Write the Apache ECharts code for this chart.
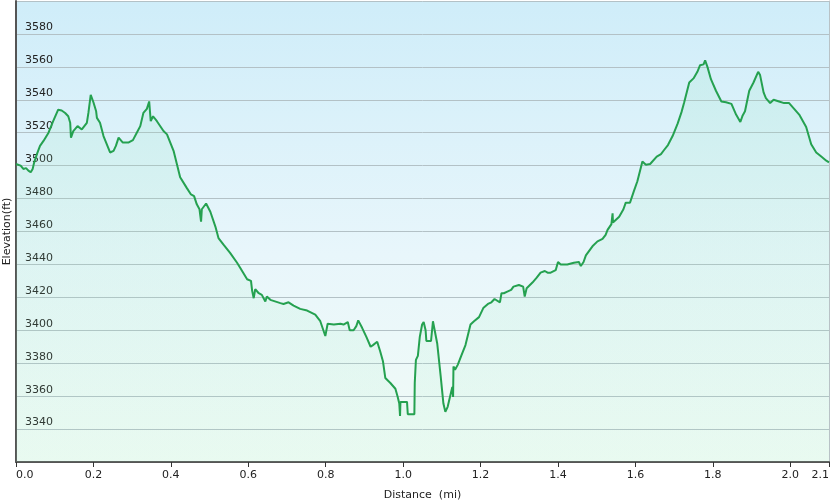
<!DOCTYPE html>
<html>
<head>
<meta charset="utf-8">
<script src="https://cdn.jsdelivr.net/npm/echarts@6/dist/echarts.min.js"></script>
<style>
html,body{margin:0;padding:0;background:#fff;}
#chart{width:831px;height:504px;}
</style>
</head>
<body>
<div id="chart"></div>
<script>
var distance = [0.000,0.012,0.019,0.026,0.032,0.038,0.043,0.047,0.054,0.062,0.071,0.084,0.096,0.109,0.118,0.127,0.135,0.140,0.142,0.148,0.159,0.170,0.183,0.187,0.193,0.200,0.207,0.209,0.217,0.226,0.243,0.252,0.258,0.265,0.276,0.290,0.302,0.312,0.321,0.329,0.338,0.344,0.348,0.354,0.364,0.381,0.390,0.407,0.424,0.441,0.452,0.460,0.467,0.474,0.478,0.480,0.491,0.502,0.515,0.523,0.536,0.553,0.571,0.579,0.597,0.607,0.610,0.614,0.618,0.627,0.635,0.644,0.648,0.657,0.683,0.691,0.704,0.717,0.734,0.752,0.773,0.786,0.799,0.805,0.821,0.838,0.846,0.857,0.862,0.872,0.879,0.884,0.894,0.905,0.916,0.922,0.933,0.941,0.948,0.954,0.959,0.967,0.980,0.986,0.990,0.992,0.993,1.010,1.012,1.029,1.030,1.033,1.038,1.043,1.049,1.053,1.058,1.060,1.072,1.077,1.081,1.088,1.097,1.104,1.109,1.115,1.122,1.127,1.129,1.130,1.134,1.141,1.146,1.150,1.161,1.174,1.183,1.196,1.207,1.219,1.228,1.236,1.250,1.254,1.260,1.269,1.279,1.285,1.299,1.310,1.314,1.319,1.334,1.345,1.355,1.366,1.373,1.381,1.394,1.400,1.407,1.424,1.441,1.454,1.459,1.466,1.472,1.477,1.489,1.502,1.515,1.523,1.528,1.538,1.541,1.542,1.558,1.569,1.575,1.586,1.596,1.605,1.618,1.627,1.638,1.655,1.666,1.674,1.684,1.696,1.709,1.719,1.726,1.739,1.750,1.760,1.767,1.776,1.780,1.786,1.795,1.808,1.822,1.834,1.848,1.860,1.871,1.877,1.883,1.894,1.905,1.917,1.922,1.931,1.937,1.948,1.957,1.971,1.984,1.997,2.010,2.023,2.041,2.054,2.067,2.080,2.093,2.100];
var elevation = [3501,3500,3498,3498.5,3497,3496,3498,3502,3507,3512,3515,3520,3527,3534,3533.5,3532,3530,3526,3517,3521,3524,3522,3526,3532,3543,3538.5,3533,3529,3526,3518,3508,3509,3512,3517,3514,3514,3515.5,3520,3524,3532,3534.5,3539,3527,3530,3527,3521,3519,3509,3493,3486.5,3482.5,3481.5,3476.5,3473.5,3466,3473.5,3477,3472,3463,3456,3452,3447,3441,3438,3431,3430,3424,3419.5,3425,3422.5,3421.5,3417.5,3420.5,3418.5,3416.5,3416,3417,3415,3413,3412,3409.5,3405.5,3396.5,3404,3403.5,3404,3403.5,3405,3400,3400,3402.5,3406,3401.5,3396,3390,3391,3393,3387,3381,3371,3372,3368,3364.5,3359.5,3355.5,3348,3356.5,3356.5,3349,3349,3368,3382,3384.5,3396,3403.5,3405,3400,3393.5,3393.5,3405.5,3404.5,3392,3372,3355.5,3350.5,3353.5,3360.5,3365.5,3359.5,3378,3376,3379,3380,3384.5,3391,3403.5,3405.5,3408,3413.5,3416,3417,3419,3417,3422.5,3422.5,3423.5,3424.5,3426.5,3427.5,3426.5,3420.5,3425.5,3429,3432,3435,3436,3435,3435,3436.5,3441.5,3440,3440,3441,3441.5,3439,3441.5,3445.5,3446.5,3451,3454,3455.5,3458,3461,3464.5,3471,3465.5,3469,3473.5,3477.5,3477.5,3484.5,3490.5,3502.5,3500.5,3501,3505.5,3507,3509.5,3512.5,3518,3525.5,3532.5,3538.5,3550.5,3553,3557,3561,3561.5,3564,3560,3552.5,3545.5,3539,3538.5,3537.5,3531,3526.5,3530.5,3533,3545.5,3550.5,3557,3555,3544.5,3541,3538,3540,3539,3538,3538,3534.5,3531,3523.5,3513,3508,3505.5,3503,3502];
var xTicks = {min: 0, max: 2.1, interval: 0.2};
var yTicks = {min: 3320, max: 3600, interval: 20};
var xName = 'Distance  (mi)';
var yName = 'Elevation(ft)';

var points = distance.map(function (d, i) { return [d, elevation[i]]; });
var chart = echarts.init(document.getElementById('chart'));
var font = 'DejaVu Sans';
chart.setOption({
  animation: false,
  backgroundColor: '#ffffff',
  grid: {
    left: 16, right: 2, top: 1, bottom: 42,
    containLabel: false,
    outerBoundsMode: 'none',
    show: true,
    borderWidth: 0,
    backgroundColor: new echarts.graphic.LinearGradient(0, 0, 0, 1, [
      {offset: 0, color: '#cfedf9'},
      {offset: 0.55, color: '#e8f6fb'},
      {offset: 1, color: '#f1fbf6'}
    ])
  },
  xAxis: {
    type: 'value',
    min: xTicks.min, max: xTicks.max, interval: xTicks.interval,
    name: xName, nameLocation: 'middle', nameGap: 28,
    nameTextStyle: {fontFamily: font, fontSize: 11, color: '#222'},
    axisLine: {show: true, lineStyle: {color: '#555', width: 2}},
    axisTick: {show: true, length: 5, lineStyle: {color: '#333'}},
    axisLabel: {
      fontFamily: font, fontSize: 11, color: '#222', margin: 8,
      showMaxLabel: true, showMinLabel: true,
      alignMinLabel: 'left', alignMaxLabel: 'right',
      formatter: function (v) { return v.toFixed(1); }
    },
    splitLine: {show: false}
  },
  yAxis: [{
    type: 'value',
    min: yTicks.min, max: yTicks.max, interval: yTicks.interval,
    name: yName, nameLocation: 'middle', nameGap: 3,
    nameMoveOverlap: false,
    nameTextStyle: {fontFamily: font, fontSize: 11, color: '#222'},
    axisLine: {show: true, lineStyle: {color: '#555', width: 2}},
    axisTick: {show: false},
    axisLabel: {
      inside: true, margin: 9, verticalAlign: 'bottom',
      fontFamily: font, fontSize: 11, color: '#222',
      showMinLabel: false, showMaxLabel: false,
      padding: [0, 0, 1, 0],
      formatter: function (v) { return String(v); }
    },
    splitLine: {show: true, lineStyle: {color: '#b3c1c6', width: 1}}
  }, {
    type: 'value', position: 'right',
    min: yTicks.min, max: yTicks.max, interval: yTicks.interval,
    axisLine: {show: true, lineStyle: {color: '#b8c2c6', width: 1}},
    axisTick: {show: false}, axisLabel: {show: false}, splitLine: {show: false}
  }],
  series: [{
    type: 'line',
    data: points,
    showSymbol: false,
    symbol: 'none',
    lineStyle: {color: '#25a150', width: 2},
    areaStyle: {
      color: new echarts.graphic.LinearGradient(0, 0, 0, 1, [
        {offset: 0, color: 'rgba(140,225,185,0.22)'},
        {offset: 1, color: 'rgba(160,240,190,0.15)'}
      ]),
      origin: 'start'
    }
  }]
});
</script>
</body>
</html>
